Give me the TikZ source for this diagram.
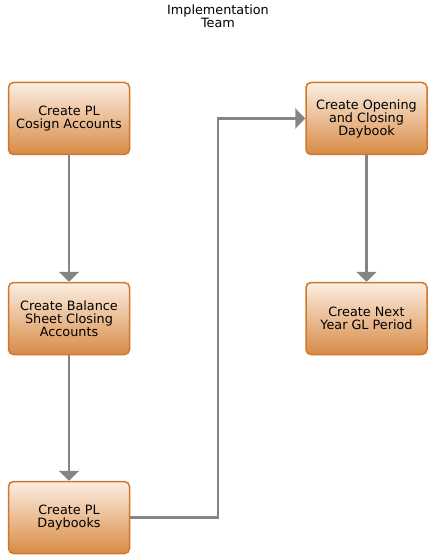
\documentclass[tikz,border=0pt]{standalone}
\usepackage{fontspec}
\setmainfont{DejaVu Sans}
\usepackage{tikz}
\usetikzlibrary{arrows.meta,positioning,calc}
\definecolor{boxtop}{HTML}{FCEEE2}
\definecolor{boxbot}{HTML}{D88B46}
\definecolor{boxline}{HTML}{D0772A}
\definecolor{flowgray}{HTML}{858585}
\tikzstyle{task} = [draw=boxline, line width=1.5pt, rounded corners=5pt,
    top color=boxtop, bottom color=boxbot, minimum width=121pt, minimum height=72pt,
    align=center, font=\fontsize{12.8}{13}\selectfont, text=black, inner sep=1pt]
\tikzstyle{flow} = [-{Triangle[width=20pt,length=10pt]}, draw=flowgray, line width=2.4pt]

\begin{document}
\begin{tikzpicture}[x=1pt,y=-1pt]
\useasboundingbox (0,0) rectangle (430,556);
\node[font=\fontsize{12.8}{13}\selectfont, align=center, inner sep=1pt] (title) at (218,16.5) {Implementation\\Team};
\node[task] (cosign) at (69,118.5) {Create PL\\Cosign Accounts};
\node[task] (balance) at (69,318.5) {Create Balance\\Sheet Closing\\Accounts};
\node[task] (daybooks) at (69,517.5) {Create PL\\Daybooks};
\node[task] (opening) at (366.5,118.5) {Create Opening\\and Closing\\Daybook};
\node[task] (period) at (366.5,318.5) {Create Next\\Year GL Period};
\draw[flow] (cosign) -- (balance);
\draw[flow] (balance) -- (daybooks);
\draw[flow] (daybooks.east) -- (218,517.5) |- (opening.west);
\draw[flow] (opening) -- (period);
\end{tikzpicture}
\end{document}
